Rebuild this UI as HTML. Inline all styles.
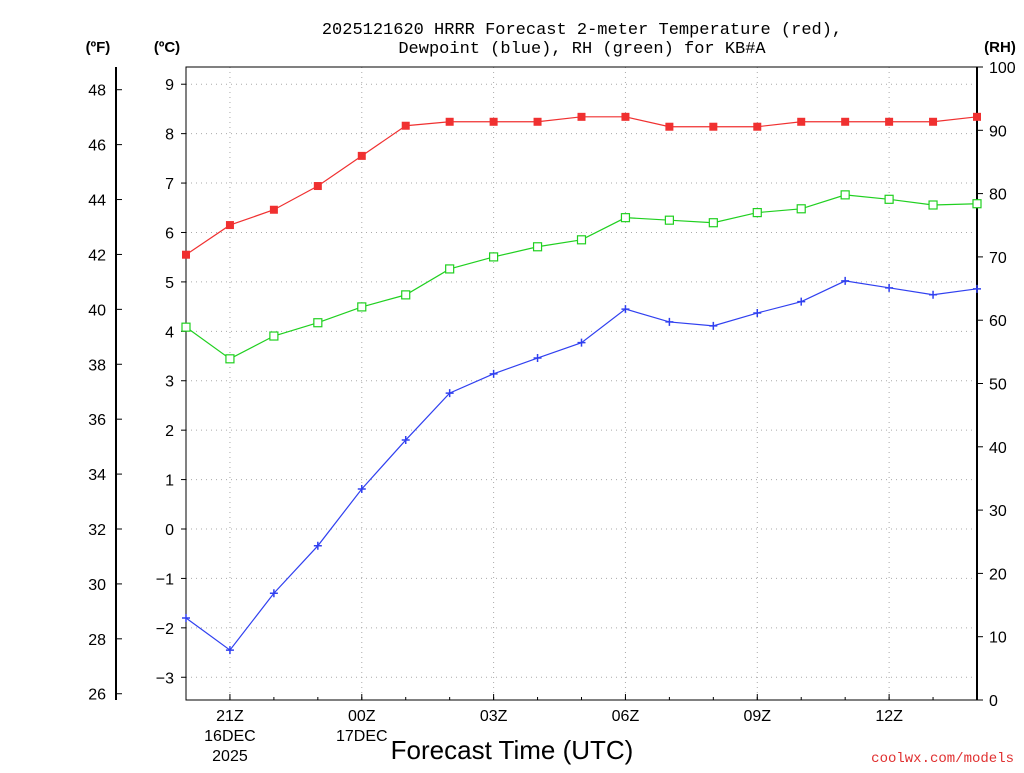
<!DOCTYPE html>
<html><head><meta charset="utf-8"><style>
body{margin:0;background:#fff;font-family:"Liberation Sans",sans-serif}
svg text{font-family:"Liberation Sans",sans-serif}
</style></head><body>
<svg id="c" width="1024" height="768" xmlns="http://www.w3.org/2000/svg">
<text x="582" y="34" text-anchor="middle" font-size="17" style="font-family:'Liberation Mono',monospace">2025121620 HRRR Forecast 2-meter Temperature (red),</text>
<text x="582" y="53" text-anchor="middle" font-size="17" style="font-family:'Liberation Mono',monospace">Dewpoint (blue), RH (green) for KB#A</text>
<text x="98" y="52" text-anchor="middle" font-size="15" font-weight="bold">(ºF)</text>
<text x="167" y="52" text-anchor="middle" font-size="15" font-weight="bold">(ºC)</text>
<text x="1000" y="52" text-anchor="middle" font-size="15" font-weight="bold">(RH)</text>
<text x="512" y="759" text-anchor="middle" font-size="26">Forecast Time (UTC)</text>
<text x="1014" y="762" text-anchor="end" font-size="14" fill="#e03030" style="font-family:'Liberation Mono',monospace">coolwx.com/models</text>
<g id="g"></g>
</svg>
<script>
const hours=[0,1,2,3,4,5,6,7,8,9,10,11,12,13,14,15,16,17,18];
const temp=[5.55,6.15,6.46,6.94,7.55,8.16,8.24,8.24,8.24,8.34,8.34,8.14,8.14,8.14,8.24,8.24,8.24,8.24,8.34];
const dew=[-1.8,-2.45,-1.3,-0.34,0.81,1.8,2.75,3.14,3.46,3.77,4.45,4.19,4.11,4.37,4.6,5.02,4.88,4.74,4.86];
const rh=[58.9,53.9,57.5,59.6,62.1,64,68.1,70,71.6,72.7,76.2,75.8,75.4,77,77.6,79.8,79.1,78.2,78.4];
const xTickLabels=["21Z","00Z","03Z","06Z","09Z","12Z"];
const xTickHours=[1,4,7,10,13,16];
const cTicks=[-3,-2,-1,0,1,2,3,4,5,6,7,8,9];
const fTicks=[26,28,30,32,34,36,38,40,42,44,46,48];
const rhTicks=[0,10,20,30,40,50,60,70,80,90,100];
const L=186,R=977,T=67,B=700;
const X=h=>L+h*(R-L)/18;
const YC=c=>529-c*49.42;
const YF=f=>YC((f-32)*5/9);
const YR=r=>B-r*(B-T)/100;
const NS="http://www.w3.org/2000/svg",g=document.getElementById('g');
function mk(t,a,txt){const e=document.createElementNS(NS,t);for(const k in a)e.setAttribute(k,a[k]);if(txt!=null)e.textContent=txt;g.appendChild(e);return e;}
cTicks.forEach(c=>{const e=mk('line',{x1:L,x2:R,y1:YC(c),y2:YC(c),stroke:'#aaa','stroke-dasharray':'1,4'});

});
xTickHours.forEach(h=>{const e=mk('line',{x1:X(h),x2:X(h),y1:T,y2:B,stroke:'#aaa','stroke-dasharray':'1,4'});

});
let f=mk('rect',{x:L,y:T,width:R-L,height:B-T,fill:'none',stroke:'#000','stroke-width':1});


mk('line',{x1:R,x2:R,y1:T,y2:B,stroke:'#000','stroke-width':2});
mk('line',{x1:116,x2:116,y1:T,y2:B,stroke:'#000','stroke-width':2});
cTicks.forEach(c=>{mk('line',{x1:L-5,x2:L,y1:YC(c),y2:YC(c),stroke:'#000'});
const e=mk('text',{x:L-12,y:YC(c)+6,'text-anchor':'end','font-size':16},c<0?'\u2212'+(-c):c);

});
fTicks.forEach(v=>{mk('line',{x1:116,x2:122,y1:YF(v),y2:YF(v),stroke:'#000'});
const e=mk('text',{x:106,y:YF(v)+6,'text-anchor':'end','font-size':16},v);

});
rhTicks.forEach(v=>{mk('line',{x1:R,x2:R+6,y1:YR(v),y2:YR(v),stroke:'#000'});
const e=mk('text',{x:R+12,y:YR(v)+6,'font-size':16},v);

});
xTickHours.forEach((h,i)=>{mk('line',{x1:X(h),x2:X(h),y1:B,y2:B-6,stroke:'#000'});
const e=mk('text',{x:X(h),y:721,'text-anchor':'middle','font-size':16},xTickLabels[i]);

});
[["16DEC",X(1),741],["2025",X(1),761],["17DEC",X(4),741]].forEach(d=>{const e=mk('text',{x:d[1],y:d[2],'text-anchor':'middle','font-size':16},d[0]);

});
for(let h=0;h<=18;h++){mk('line',{x1:X(h),x2:X(h),y1:B,y2:B-3,stroke:'#000'});}
function series(vals,yf,col,name,marker){
const p=mk('polyline',{points:vals.map((v,i)=>X(hours[i])+','+yf(v)).join(' '),fill:'none',stroke:col,'stroke-width':1.2});


vals.forEach((v,i)=>{const x=X(hours[i]),y=yf(v);let m;
if(marker==='fill')m=mk('rect',{x:x-4,y:y-4,width:8,height:8,fill:col});
else if(marker==='open')m=mk('rect',{x:x-4,y:y-4,width:8,height:8,fill:'#fff',stroke:col,'stroke-width':1.2});
else m=mk('path',{d:`M${x-4},${y}H${x+4}M${x},${y-4}V${y+4}`,stroke:col,'stroke-width':1.5});

});}
series(rh,YR,'#20d020','rh','open');
series(dew,YC,'#3040f0','dewpoint','plus');
series(temp,YC,'#f03030','temperature','fill');
</script>
</body></html>
